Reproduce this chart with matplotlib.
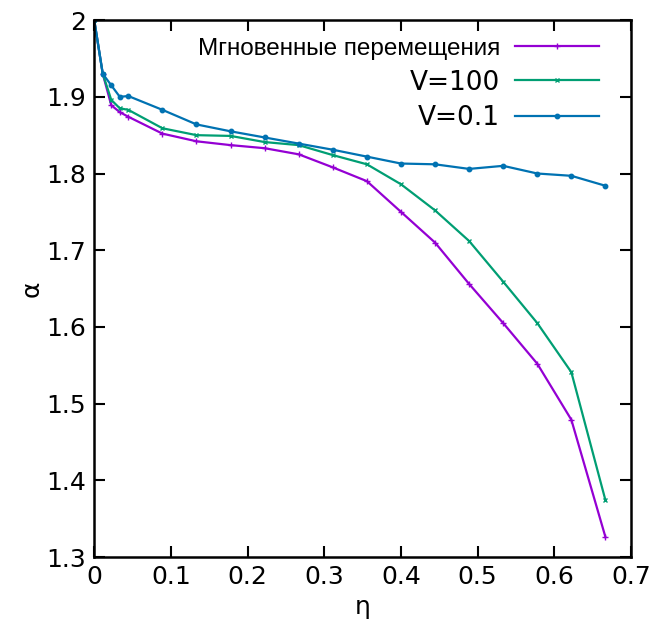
import matplotlib
matplotlib.use("Agg")
import matplotlib.pyplot as plt

eta = [0.0, 0.0111, 0.0222, 0.0333, 0.0444, 0.0889, 0.1333, 0.1778, 0.2222,
       0.2667, 0.3111, 0.3556, 0.4, 0.4444, 0.4889, 0.5333, 0.5778, 0.6222, 0.6667]
alpha_instant = [2.0, 1.93, 1.889, 1.880, 1.874, 1.852, 1.842, 1.837, 1.833,
                 1.825, 1.808, 1.790, 1.750, 1.710, 1.656, 1.605, 1.552, 1.479, 1.326]
alpha_v100 = [2.0, 1.93, 1.896, 1.885, 1.883, 1.859, 1.850, 1.849, 1.841,
              1.837, 1.824, 1.812, 1.786, 1.752, 1.712, 1.659, 1.605, 1.541, 1.374]
alpha_v01 = [2.0, 1.930, 1.915, 1.900, 1.901, 1.883, 1.864, 1.855, 1.847,
             1.839, 1.831, 1.822, 1.813, 1.812, 1.806, 1.810, 1.800, 1.797, 1.784]
labels = ["Мгновенные перемещения", "V=100", "V=0.1"]
xticks = [0, 0.1, 0.2, 0.3, 0.4, 0.5, 0.6, 0.7]
xticklabels = ["0", "0.1", "0.2", "0.3", "0.4", "0.5", "0.6", "0.7"]
yticks = [1.3, 1.4, 1.5, 1.6, 1.7, 1.8, 1.9, 2.0]
yticklabels = ["1.3", "1.4", "1.5", "1.6", "1.7", "1.8", "1.9", "2"]

fig = plt.figure(figsize=(6.59, 6.28), dpi=100)
ax = fig.add_axes([0.143, 0.113, 0.8145, 0.855])

ax.plot(eta, alpha_instant, color="#9400D3", lw=1.6, marker="+", ms=4, mew=1.0, label=labels[0])
ax.plot(eta, alpha_v100, color="#009E73", lw=1.6, marker="x", ms=3.5, mew=1.0, label=labels[1])
ax.plot(eta, alpha_v01, color="#0072B2", lw=1.6, marker="o", ms=3.2, label=labels[2])

ax.set_xlim(0, 0.7)
ax.set_ylim(1.3, 2.0)
ax.set_xticks(xticks)
ax.set_xticklabels(xticklabels)
ax.set_yticks(yticks)
ax.set_yticklabels(yticklabels)
ax.tick_params(direction="in", length=8, width=1.5, top=True, right=True, labelsize=18, pad=6)
for s in ax.spines.values():
    s.set_linewidth(1.8)
ax.set_xlabel("η", fontsize=18, labelpad=4)
ax.set_ylabel("α", fontsize=18, labelpad=2)

leg = ax.legend(loc="upper right", bbox_to_anchor=(0.985, 1.013), frameon=False,
                markerfirst=False, prop={"size": 19}, handlelength=3.2,
                labelspacing=0.35, handletextpad=0.55, alignment="right")
texts = leg.get_texts()
texts[0].set_fontsize(17.5)
texts[0].set_family("Liberation Sans")
for t in texts:
    t.set_ha("right")

fig.savefig("out.png", dpi=100)
